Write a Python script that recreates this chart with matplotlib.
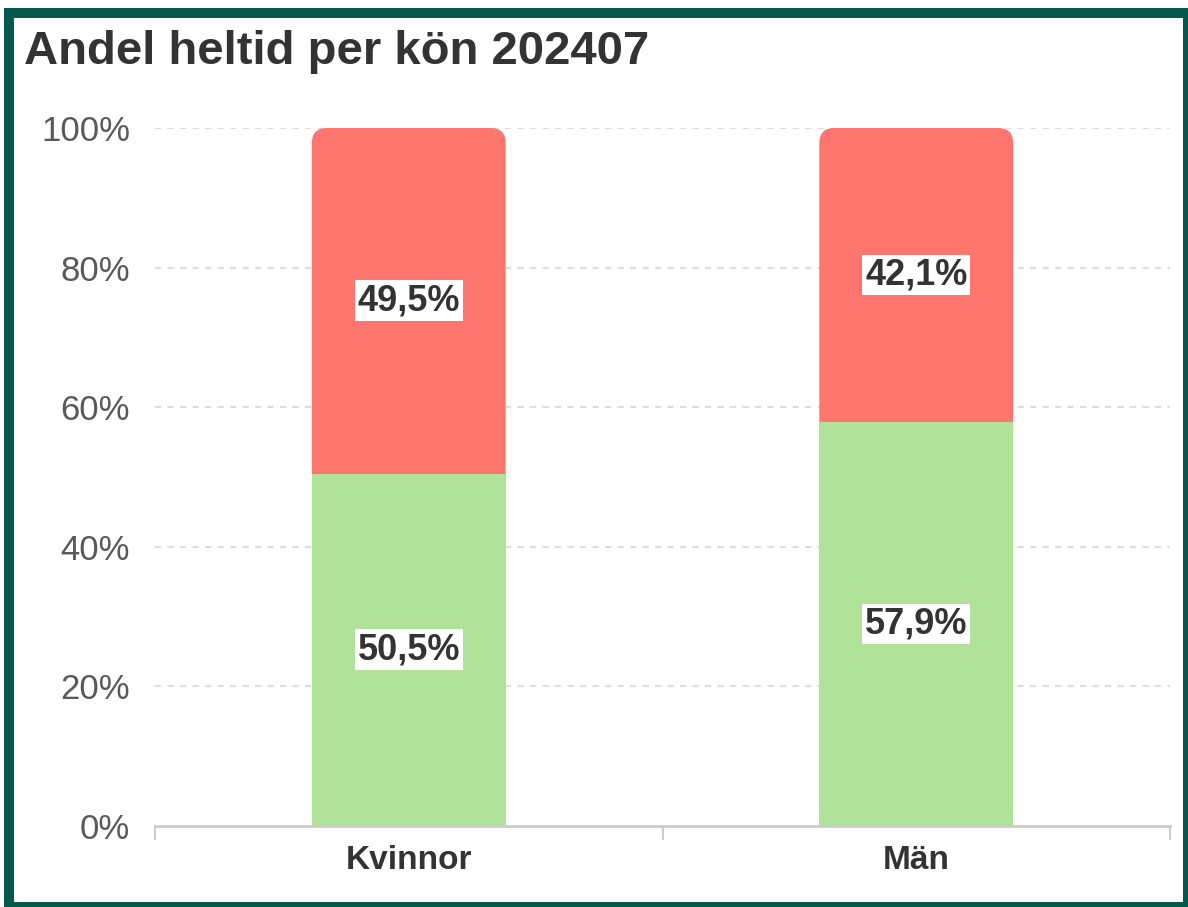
import matplotlib.pyplot as plt
from matplotlib.patches import FancyBboxPatch, Rectangle

plt.rcParams['font.family'] = ['Liberation Sans', 'DejaVu Sans']

# data
categories = ['Kvinnor', 'Män']
heltid = [50.5, 57.9]
deltid = [49.5, 42.1]
yticks = [0, 20, 40, 60, 80, 100]

GREEN = '#b1e29a'
RED = '#ff766f'
TEXT = '#333333'

W, H = 1188, 907
fig = plt.figure(figsize=(W / 100, H / 100), dpi=100)
ax = fig.add_axes([155 / W, (H - 826) / H, (1170 - 155) / W, (826 - 128) / H])

x = list(range(len(categories)))
bar_w = 0.382
ax.set_xlim(-0.5, len(categories) - 0.5)
ax.set_ylim(0, 100)

# pixel scale per data unit, for the corner rounding
ax_px_w = ax.get_position().width * W
ax_px_h = ax.get_position().height * H
px_x = ax_px_w / (len(categories))
px_y = ax_px_h / 100
radius = 15 / px_x
aspect = px_x / px_y

bars = ax.bar(x, heltid, width=bar_w, color=GREEN, lw=0, zorder=3)

for xi, g, r in zip(x, heltid, deltid):
    # rounded box starting below the green part, clipped at the green top
    patch = FancyBboxPatch((xi - bar_w / 2, g - 5), bar_w, r + 5,
                           boxstyle=f'round,pad=0,rounding_size={radius}',
                           mutation_aspect=aspect, fc=RED, ec='none', zorder=2)
    ax.add_patch(patch)
    clip = Rectangle((xi - bar_w, g), 2 * bar_w, r + 10, transform=ax.transData)
    patch.set_clip_path(clip)

label_box = dict(boxstyle='square,pad=0.08', fc='white', ec='none')
for xi, g, r in zip(x, heltid, deltid):
    ax.text(xi, g / 2, f'{g:.1f}%'.replace('.', ','), ha='center', va='center',
            fontsize=26, fontweight='bold', color=TEXT, bbox=label_box, zorder=5)
    ax.text(xi, g + r / 2, f'{r:.1f}%'.replace('.', ','), ha='center', va='center',
            fontsize=26, fontweight='bold', color=TEXT, bbox=label_box, zorder=5)

# axes styling
ax.set_yticks(yticks)
ax.set_yticklabels([f'{t}%' for t in yticks])
ax.tick_params(axis='y', length=0, pad=18, labelsize=25, labelcolor='#595959')
ax.set_xticks(x)
ax.set_xticklabels(categories, fontsize=24, fontweight='bold', color=TEXT)
ax.set_xticks([-0.5 + i for i in range(len(categories) + 1)], minor=True)
ax.tick_params(axis='x', which='major', length=0, pad=14)
ax.tick_params(axis='x', which='minor', length=10, width=1.5, color='#cccccc')

for s in ['top', 'right', 'left']:
    ax.spines[s].set_visible(False)
ax.spines['bottom'].set_color('#cccccc')
ax.spines['bottom'].set_linewidth(2)
ax.spines['bottom'].set_zorder(1)

for t in yticks[1:]:
    ax.axhline(t, color='#dddddd', lw=1.5, ls=(0, (3, 3)), zorder=1)

fig.text(24 / W, 1 - 52 / H, 'Andel heltid per kön 202407', fontsize=34,
         fontweight='bold', color=TEXT, ha='left', va='center')

# dark green frame
fig.patches.append(Rectangle((9 / W, 0), 1 - 9 / W, 1 - 13 / H, transform=fig.transFigure,
                             fill=False, ec='#03594b', lw=7.2, figure=fig))

fig.savefig('out.png', dpi=100, facecolor='white')
